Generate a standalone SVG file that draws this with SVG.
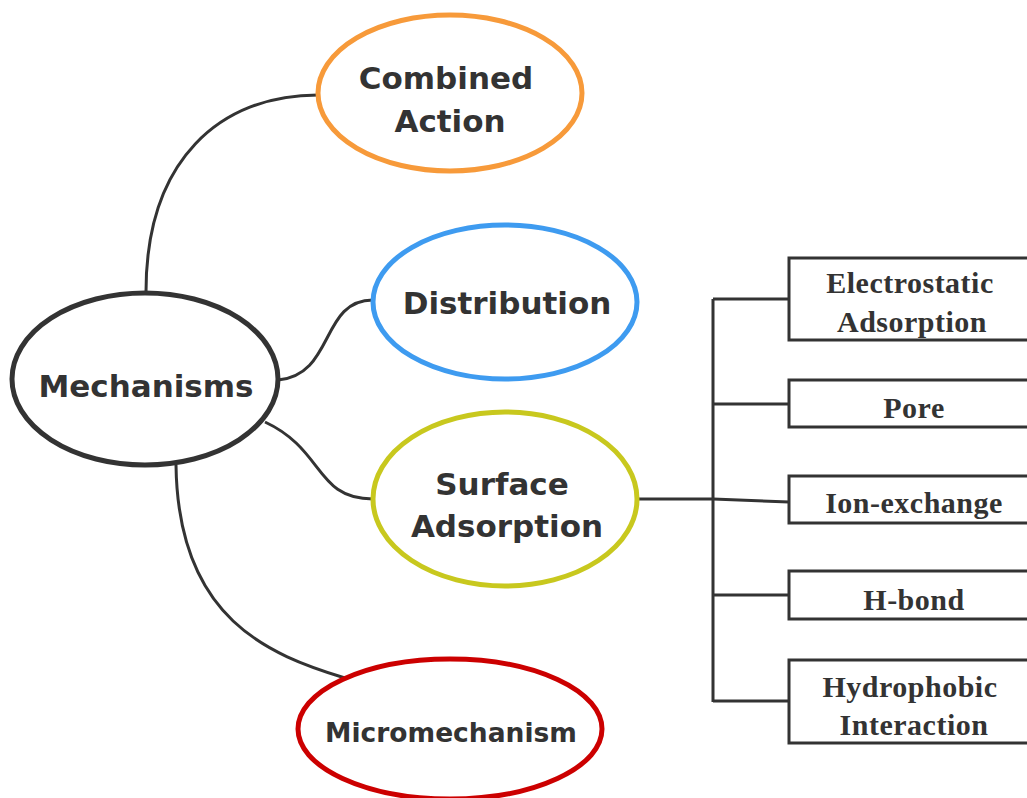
<svg xmlns="http://www.w3.org/2000/svg" width="1027" height="798" viewBox="0 0 1027 798">
<style>
.ell{fill:#fff;stroke-width:5}
.mt{font-family:"DejaVu Sans",Verdana,sans-serif;font-weight:bold;fill:#333;text-anchor:middle}
.bt{font-family:"Liberation Serif","Times New Roman",serif;font-weight:bold;fill:#333;text-anchor:middle;font-size:30px;letter-spacing:0.5px}
.box{fill:#fff;stroke:#333;stroke-width:3}
.con{fill:none;stroke:#333;stroke-width:3}
</style>
<rect width="1027" height="798" fill="#fff"/>
<g id="connectors">
<path class="con" d="M146,292 C146,160 220,95 318,95"/>
<path class="con" d="M278,380 C335,375 320,300 373,300"/>
<path class="con" d="M265,422 C325,450 315,499 373,499"/>
<path class="con" d="M176,465 C178,620 270,655 345,678"/>
<path class="con" d="M637,499 L713,499 L789,502"/>
<path class="con" d="M713,299 L713,702"/>
<path class="con" d="M713,299 H789 M713,404 H789 M713,595 H789 M713,701 H789"/>
</g>
<g id="mechanisms">
<ellipse class="ell" cx="145" cy="379" rx="133" ry="86" stroke="#333" stroke-width="6"/>
<text class="mt" x="146" y="397" font-size="31">Mechanisms</text>
</g>
<g id="combined-action">
<ellipse class="ell" cx="450" cy="93" rx="132" ry="78" stroke="#F79A3A"/>
<text class="mt" x="446" y="89" font-size="31">Combined</text>
<text class="mt" x="450" y="132" font-size="31">Action</text>
</g>
<g id="distribution">
<ellipse class="ell" cx="505" cy="302" rx="132" ry="77" stroke="#3E9BF0"/>
<text class="mt" x="507" y="314" font-size="31">Distribution</text>
</g>
<g id="surface-adsorption">
<ellipse class="ell" cx="505" cy="499" rx="132" ry="87" stroke="#C8C81E"/>
<text class="mt" x="502" y="495" font-size="31">Surface</text>
<text class="mt" x="507" y="537" font-size="31">Adsorption</text>
</g>
<g id="micromechanism">
<ellipse class="ell" cx="450" cy="729" rx="152" ry="70" stroke="#CC0000"/>
<text class="mt" x="451" y="742" font-size="26.5">Micromechanism</text>
</g>
<g id="electrostatic">
<rect class="box" x="789" y="258" width="250" height="82"/>
<text class="bt" x="910" y="293">Electrostatic</text>
<text class="bt" x="912" y="332">Adsorption</text>
</g>
<g id="pore">
<rect class="box" x="789" y="380" width="250" height="47"/>
<text class="bt" x="914" y="418">Pore</text>
</g>
<g id="ion-exchange">
<rect class="box" x="789" y="476" width="250" height="47"/>
<text class="bt" x="914" y="513">Ion-exchange</text>
</g>
<g id="h-bond">
<rect class="box" x="789" y="571" width="250" height="48"/>
<text class="bt" x="914" y="610">H-bond</text>
</g>
<g id="hydrophobic">
<rect class="box" x="789" y="660" width="250" height="83"/>
<text class="bt" x="910" y="697">Hydrophobic</text>
<text class="bt" x="914" y="735">Interaction</text>
</g>
</svg>
